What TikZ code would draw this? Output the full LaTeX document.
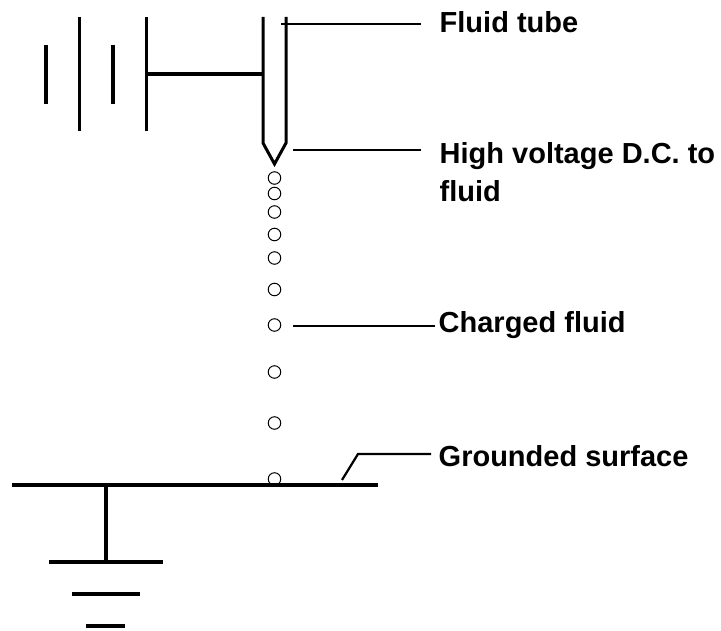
\documentclass[tikz,border=0pt]{standalone}
\usepackage{fontspec}
\setmainfont{Liberation Sans}
\usetikzlibrary{positioning,calc}
\tikzset{
    plate/.style={line width=3.6pt},
    wire/.style={line width=3pt},
    leader/.style={line width=2.2pt},
    drop/.style={circle,draw,line width=1pt,minimum size=12.5pt,inner sep=0pt},
    tag/.style={font=\fontsize{29}{38}\selectfont\bfseries,inner sep=0pt,anchor=base west,align=left}
}

\begin{document}
\begin{tikzpicture}[x=1pt,y=-1pt]
    \useasboundingbox (0,0) rectangle (721,631);

    % battery
    \draw [plate] (46, 45) -- (46, 104);
    \draw [plate] (79.5, 17) -- (79.5, 131);
    \draw [plate] (113, 45) -- (113, 104);
    \coordinate (batt) at (146.5, 74);
    \draw [plate] (146.5, 17) -- (146.5, 131);

    % tube
    \coordinate (tubeL) at (263, 74);
    \draw [wire, line join=miter] (263, 17) -- (263, 143) -- (274.5, 164) -- (286, 143) -- (286, 17);
    \draw [plate] (batt) -- (tubeL);

    % drops
    \foreach \name/\y in {d1/178, d2/193.5, d3/212, d4/234.5, d5/258, d6/289.5, d7/325, d8/372, d9/423, d10/479}
        \node [drop] (\name) at (274.5, \y) {};

    % ground
    \coordinate (gndL) at (12, 485);
    \coordinate (gndR) at (378, 485);
    \coordinate (gndT) at (106, 485);
    \coordinate (gndB) at (106, 562);
    \draw [plate] (gndL) -- (gndR);
    \draw [plate] (gndT) -- (gndB);
    \draw [plate] (49, 562) -- (163, 562);
    \draw [plate] (72, 594) -- (140, 594);
    \draw [plate] (86, 626) -- (125, 626);

    % labels
    \node [tag] (tube) at (439.5, 33) {Fluid tube};
    \node [tag] (volt) at (439.5, 202) {High voltage D.C. to\\fluid};
    \node [tag] (fluid) at (438.5, 333) {Charged fluid};
    \node [tag] (surf) at (438.5, 466) {Grounded surface};

    % leaders
    \coordinate (a1) at (281, 24);
    \coordinate (a2) at (293, 150);
    \coordinate (a3) at (293, 326);
    \coordinate (a4) at (342, 480);
    \coordinate (b4) at (358, 454);
    \draw [leader] (a1) -- ($(a1 -| tube.west)+(-18.5,0)$);
    \draw [leader] (a2) -- ($(a2 -| volt.west)+(-18.5,0)$);
    \draw [leader] (a3) -- ($(a3 -| fluid.west)+(-3.5,0)$);
    \draw [leader] (a4) -- (b4) -- ($(b4 -| surf.west)+(-7.5,0)$);
\end{tikzpicture}
\end{document}
